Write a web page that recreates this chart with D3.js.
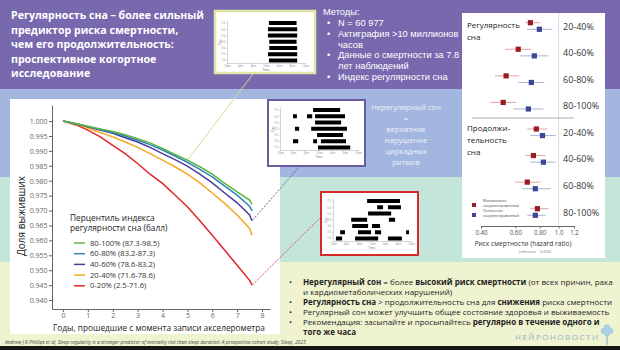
<!DOCTYPE html>
<html><head><meta charset="utf-8">
<script src="https://cdn.jsdelivr.net/npm/d3@7/dist/d3.min.js"></script>
<style>
html,body{margin:0;padding:0;background:#fff;}
svg{display:block;}
text{font-family:"Open Sans",sans-serif;}
</style></head>
<body>
<svg id="chart" width="620" height="350"></svg>
<script>
// ---------------- DATA ----------------
const years = [0,0.5,1,1.5,2,2.5,3,3.5,4,4.5,5,5.5,6,6.5,7,7.5,7.6];
const surv_80_100 = [1.000,0.9992,0.9983,0.9974,0.9965,0.9954,0.9941,0.9927,0.9908,0.9888,0.9869,0.9847,0.9822,0.9791,0.9763,0.9735,0.9721];
const surv_60_80  = [1.000,0.9992,0.9982,0.9972,0.9962,0.9950,0.9936,0.9921,0.9903,0.9883,0.9862,0.9838,0.9813,0.9782,0.9752,0.9715,0.9699];
const surv_40_60  = [1.000,0.9991,0.9981,0.9970,0.9959,0.9944,0.9930,0.9912,0.9891,0.9871,0.9849,0.9822,0.9793,0.9759,0.9726,0.9685,0.9666];
const surv_20_40  = [1.000,0.9990,0.9977,0.9962,0.9947,0.9930,0.9912,0.9891,0.9869,0.9847,0.9822,0.9793,0.9759,0.9724,0.9685,0.9640,0.9617];
const surv_0_20   = [1.000,0.9988,0.9970,0.9947,0.9919,0.9891,0.9858,0.9822,0.9791,0.9752,0.9713,0.9666,0.9617,0.9567,0.9517,0.9466,0.9450];
const seriesLabels = ["80-100% (87.3-98.5)","60-80% (83.2-87.3)","40-60% (78.6-83.2)","20-40% (71.6-78.6)","0-20% (2.5-71.6)"];
const seriesColors = ["#5db53f","#2f86b8","#4a3c9c","#f4a81f","#e2262a"];
const yTicks = [0.940,0.945,0.950,0.955,0.960,0.965,0.970,0.975,0.980,0.985,0.990,0.995,1.000];
const xTicks = [0,1,2,3,4,5,6,7,8];

// forest plot (hazard ratios)
const quintiles = ["20-40%","40-60%","60-80%","80-100%"];
const regMinHR  = [0.717,0.621,0.538,0.520], regMinLo  = [0.675,0.532,0.472,0.445], regMinHi  = [0.807,0.725,0.628,0.606];
const regFullHR = [0.797,0.751,0.725,0.700], regFullLo = [0.690,0.636,0.621,0.585], regFullHi = [0.930,0.888,0.846,0.836];
const durMinHR  = [0.769,0.743,0.691,0.779], durMinLo  = [0.691,0.675,0.599,0.717], durMinHi  = [0.877,0.857,0.807,0.888];
const durFullHR = [0.827,0.836,0.760,0.760], durFullLo = [0.717,0.717,0.651,0.691], durFullHi = [0.965,0.965,0.909,0.857];
const hrTicks = [0.4,0.6,0.8,1.0,1.2];
const hrTickLabels = ["0.40","0.60","0.80","1.0","1.2"];

// actigraphy rasters: [start,end] in hours since noon, one list per day (top to bottom)
const rasterHours = [12,16,20,24,28,32,36];
const rasterLabels = ["12pm","4pm","8pm","12am","4am","8am","12pm"];
const regularSleep = [[[24.9,33.4]],[[24.6,33.6]],[[24.6,33.6]],[[25.0,33.4]],[[25.0,33.6]],[[24.6,33.6]],[[24.9,33.6]]];
const moderateSleep = [[[22.2,30.5]],[[16.0,17.2],[20.3,21.9],[22.8,32.0]],[[22.8,30.8]],[[16.6,17.9],[21.6,32.6]],[[23.4,31.4]],[[16.0,17.6],[22.2,23.4],[24.6,32.3]],[[23.7,33.6]]];
const irregularSleep = [[[22.5,32.6]],[[25.6,27.4],[28.9,32.9]],[[22.8,29.9]],[[17.6,22.5],[29.2,31.1]],[[17.9,22.8],[24.0,26.5]],[[14.2,15.7],[19.7,23.7],[24.9,26.8],[34.5,35.4]],[[12.9,14.8],[18.8,25.9],[28.9,33.2]]];

// ---------------- DRAW ----------------
const svg = d3.select('#chart');
[['#7868ae',0,89],['#a3b6df',89,177],['#c4e6da',177,262],['#eff3d0',262,346],['#151515',346,350]]
  .forEach(([c,y0,y1])=>svg.append('rect').attr('x',0).attr('y',y0).attr('width',620).attr('height',y1-y0).attr('fill',c));

function rich(x,y,parts,size,fill,anchor,family){
  const t = svg.append('text').attr('x',x).attr('y',y).attr('font-size',size).attr('fill',fill);
  if(anchor) t.attr('text-anchor',anchor);
  if(family) t.style('font-family',family);
  parts.forEach(p=>{const s = typeof p==='string'?{t:p}:p; const ts=t.append('tspan').text(s.t); if(s.b) ts.attr('font-weight',700);});
  return t;
}

// Title
const titleLines = ["Регулярность сна – более сильный","предиктор риска смертности,","чем его продолжительность:","проспективное когортное","исследование"];
titleLines.forEach((l,i)=>rich(11,19+i*14.5,[{t:l,b:1}],10.6,'#fff'));

// Methods
const mFont = '"Liberation Sans",Arial,sans-serif';
rich(323,15,["Методы:"],9.3,'#fff',null,mFont);
const methods = [["N = 60 977"],["Актиграфия >10 миллионов","часов"],["Данные о смертности за 7.8","лет наблюдений"],["Индекс регулярности сна"]];
let my = 26;
methods.forEach(m=>{
  rich(327,my,["•"],9.3,'#fff',null,mFont);
  m.forEach((l,j)=>{rich(338,my,[l],9.3,'#fff',null,mFont); if(j<m.length-1) my += 10.8;});
  my += 10.8;
});

// White panels
svg.append('rect').attr('x',10).attr('y',99).attr('width',270).attr('height',235).attr('fill','#fff');
svg.append('rect').attr('x',462).attr('y',13).attr('width',143).attr('height',245).attr('fill','#fff');

// Blue band text
["Нерегулярный сон","=","вероятное","нарушение","циркадных","ритмов"].forEach((l,i)=>rich(406,110+i*11,[l],7.6,'#eef2fb','middle'));

// ---------- Survival chart ----------
const sx = d3.scaleLinear().domain([-0.44,8.32]).range([52,270]);
const sy = d3.scaleLinear().domain([0.937,1.0054]).range([309,105]);
const ya = svg.append('g').attr('transform','translate(52,0)')
  .call(d3.axisLeft(sy).tickValues(yTicks).tickFormat(d3.format('.3f')).tickSize(3).tickSizeOuter(0).tickPadding(1.5));
const xa = svg.append('g').attr('transform','translate(0,309)')
  .call(d3.axisBottom(sx).tickValues(xTicks).tickSize(3).tickSizeOuter(0).tickPadding(1));
[ya,xa].forEach(a=>{a.selectAll('path,line').attr('stroke','#666');a.selectAll('text').attr('fill','#666').attr('font-size',7).attr('font-family','"Open Sans",sans-serif');});
svg.append('text').attr('transform','translate(25,216) rotate(-90)').attr('text-anchor','middle').attr('font-size',10).attr('fill','#222').text('Доля выживших');
svg.append('text').attr('x',159).attr('y',331).attr('text-anchor','middle').attr('font-size',8.3).attr('fill','#222').text('Годы, прошедшие с момента записи акселерометра');

const seriesData = [surv_80_100,surv_60_80,surv_40_60,surv_20_40,surv_0_20];
const line = d3.line().x((d,i)=>sx(years[i])).y(d=>sy(d));
// connector lines (drawn below curves)
const last = years.length-1;
svg.append('line').attr('x1',253).attr('y1',74).attr('x2',sx(years[10])).attr('y2',sy(surv_80_100[10])).attr('stroke','#cfdb98').attr('stroke-width',1);
svg.append('line').attr('x1',300).attr('y1',166).attr('x2',sx(years[last])).attr('y2',sy(surv_40_60[last])).attr('stroke','#5b4c9e').attr('stroke-width',0.9).attr('stroke-dasharray','2,1.5');
svg.append('line').attr('x1',321).attr('y1',217).attr('x2',sx(years[last])).attr('y2',sy(surv_0_20[last])).attr('stroke','#d23a3a').attr('stroke-width',0.9).attr('stroke-dasharray','2,1.5');
seriesData.slice().reverse().forEach((s,ri)=>{
  const i = seriesData.length-1-ri;
  svg.append('path').attr('d',line(s)).attr('fill','none').attr('stroke',seriesColors[i]).attr('stroke-width',1.5);
});
// legend
rich(70,221,["Перцентиль индекса"],8.3,'#222');
rich(70,231,["регулярности сна (балл)"],8.3,'#222');
seriesLabels.forEach((l,i)=>{
  const y = 243+i*10.7;
  svg.append('line').attr('x1',74).attr('x2',85).attr('y1',y).attr('y2',y).attr('stroke',seriesColors[i]).attr('stroke-width',1.5);
  rich(90,y+2.6,[l],7.6,'#333');
});

// ---------- Raster insets ----------
function raster(box, axisY, rows, border, bw){
  const g = svg.append('g');
  g.append('rect').attr('x',box.x).attr('y',box.y).attr('width',box.w).attr('height',box.h).attr('fill','#fff').attr('stroke',border).attr('stroke-width',bw);
  const left = box.x+12, right = box.x+90;
  const x = d3.scaleLinear().domain([12,36]).range([left,right]);
  const y = d3.scalePoint().domain(d3.range(rows.length)).range([axisY-40,axisY-2.5]);
  const xg = g.append('g').attr('transform',`translate(0,${axisY})`).call(d3.axisBottom(x).tickValues(rasterHours).tickFormat((d,i)=>rasterLabels[i]).tickSize(1.2).tickPadding(0.8).tickSizeOuter(0));
  const yd = d3.scaleLinear().domain([0.5,7.5]).range([axisY,axisY-43]);
  const yg = g.append('g').attr('transform',`translate(${left},0)`).call(d3.axisLeft(yd).tickValues([1,2,3,4,5,6,7]).tickSize(1.2).tickPadding(0.8).tickSizeOuter(0));
  [xg,yg].forEach(a=>{a.selectAll('path,line').attr('stroke','#aaa').attr('stroke-width',0.5);a.selectAll('text').attr('fill','#888').attr('font-size',2.6).attr('font-family','"Open Sans",sans-serif');});
  g.append('text').attr('x',(left+right)/2).attr('y',axisY+7.5).attr('text-anchor','middle').attr('font-size',3).attr('fill','#666').text('Time');
  g.append('text').attr('transform',`translate(${box.x+6},${axisY-21}) rotate(-90)`).attr('text-anchor','middle').attr('font-size',3).attr('fill','#666').text('Day');
  rows.forEach((segs,i)=>segs.forEach(s=>g.append('rect').attr('x',x(s[0])).attr('y',y(i)-2).attr('width',x(s[1])-x(s[0])).attr('height',4).attr('fill','#000')));
}
raster({x:215,y:11,w:100,h:62},63,regularSleep,'#dfe6a6',2.5);
raster({x:268,y:100,w:97,h:66},150,moderateSleep,'#6b5b9e',2);
raster({x:321,y:192,w:97,h:63},241,irregularSleep,'#d42a2a',2);

// ---------- Forest plot ----------
const fx = d3.scaleLog().domain([0.4,1.2]).range([481,574]);
const rowKeys = d3.range(8);
const fy = d3.scalePoint().domain(rowKeys).range([26,212]);
svg.append('line').attr('x1',fx(1)).attr('x2',fx(1)).attr('y1',13).attr('y2',226).attr('stroke','#d0d0d0').attr('stroke-width',0.8);
svg.append('line').attr('x1',472).attr('x2',574).attr('y1',118).attr('y2',118).attr('stroke','#999').attr('stroke-width',0.8);
const fa = svg.append('g').attr('transform','translate(0,226)')
  .call(d3.axisBottom(fx).tickValues(hrTicks).tickFormat((d,i)=>hrTickLabels[i]).tickSize(2.5).tickSizeOuter(0).tickPadding(2));
fa.selectAll('path,line').attr('stroke','#666');
fa.selectAll('text').attr('fill','#555').attr('font-size',6.2).attr('font-family','"Open Sans",sans-serif');
rich(523,246,["Риск смертности (hazard ratio)"],6.6,'#333','middle');
rich(535,253,["(reference = 0-20%)"],3.6,'#777','middle');

const fMin = {hr:regMinHR.concat(durMinHR), lo:regMinLo.concat(durMinLo), hi:regMinHi.concat(durMinHi)};
const fFull = {hr:regFullHR.concat(durFullHR), lo:regFullLo.concat(durFullLo), hi:regFullHi.concat(durFullHi)};
[[fMin,-3.3,'#9b1b22','#e4a3a6'],[fFull,3.3,'#3b4796','#aab1d9']].forEach(([d,off,c,cl])=>{
  rowKeys.forEach(k=>{
    const y = fy(k)+off;
    svg.append('line').attr('x1',fx(d.lo[k])).attr('x2',fx(d.hi[k])).attr('y1',y).attr('y2',y).attr('stroke',cl).attr('stroke-width',1);
    svg.append('rect').attr('x',fx(d.hr[k])-2.6).attr('y',y-2.6).attr('width',5.2).attr('height',5.2).attr('fill',c);
  });
});
rowKeys.forEach(k=>rich(563,fy(k)+3.6,[quintiles[k%4]],9,'#333'));
rich(467,28,["Регулярность"],8,'#222'); rich(467,40,["сна"],8,'#222');
rich(467,131,["Продолжи-"],8,'#222'); rich(467,143,["тельность"],8,'#222'); rich(467,155,["сна"],8,'#222');
svg.append('rect').attr('x',472).attr('y',203).attr('width',4).attr('height',4).attr('fill','#9b1b22');
svg.append('rect').attr('x',472).attr('y',213).attr('width',4).attr('height',4).attr('fill','#3b4796');
rich(483,202,["Минимально"],3.6,'#444'); rich(483,206.5,["скорректированный"],3.6,'#444');
rich(483,212,["Полностью"],3.6,'#444'); rich(483,216.5,["скорректированный"],3.6,'#444');

// ---------- Bottom conclusions ----------
const bullets = [
  [[{t:"Нерегулярный сон",b:1}," = более ",{t:"высокий риск смертности",b:1}," (от всех причин, рака"],["и кардиометаболических нарушений)"]],
  [[{t:"Регулярность сна",b:1}," > продолжительность сна для ",{t:"снижения",b:1}," риска смертности"]],
  [["Регулярный сон может улучшить общее состояние здоровья и выживаемость"]],
  [["Рекомендация: засыпайте и просыпайтесь ",{t:"регулярно в течение одного и",b:1}],[{t:"того же часа",b:1}]]
];
let by = 285;
bullets.forEach(b=>{
  rich(289,by,["•"],8,'#222');
  b.forEach((ln,j)=>{rich(303,by,ln,8,'#1e1e1e'); if(j<b.length-1) by+=10;});
  by += 10;
});
// logo
svg.append('text').attr('x',515).attr('y',340).attr('font-size',8).attr('letter-spacing',1.5).attr('fill','#93b2c6').text('НЕЙРОНОВОСТИ');
svg.append('line').attr('x1',607).attr('x2',607).attr('y1',333).attr('y2',345).attr('stroke','#93b9cc').attr('stroke-width',1.2);
[[604,331,3.2],[610,331,3.2],[607,328,3.4],[607,334,2.6]].forEach(([cx,cy,r])=>svg.append('circle').attr('cx',cx).attr('cy',cy).attr('r',r).attr('fill','#a9cfe0'));
// credit
svg.append('text').attr('x',5).attr('y',343.5).attr('font-size',4.9).attr('font-style','italic').attr('fill','#444')
  .text('Andrew J K Phillips et al, Sleep regularity is a stronger predictor of mortality risk than sleep duration: A prospective cohort study, Sleep, 2023');
</script>
</body></html>
